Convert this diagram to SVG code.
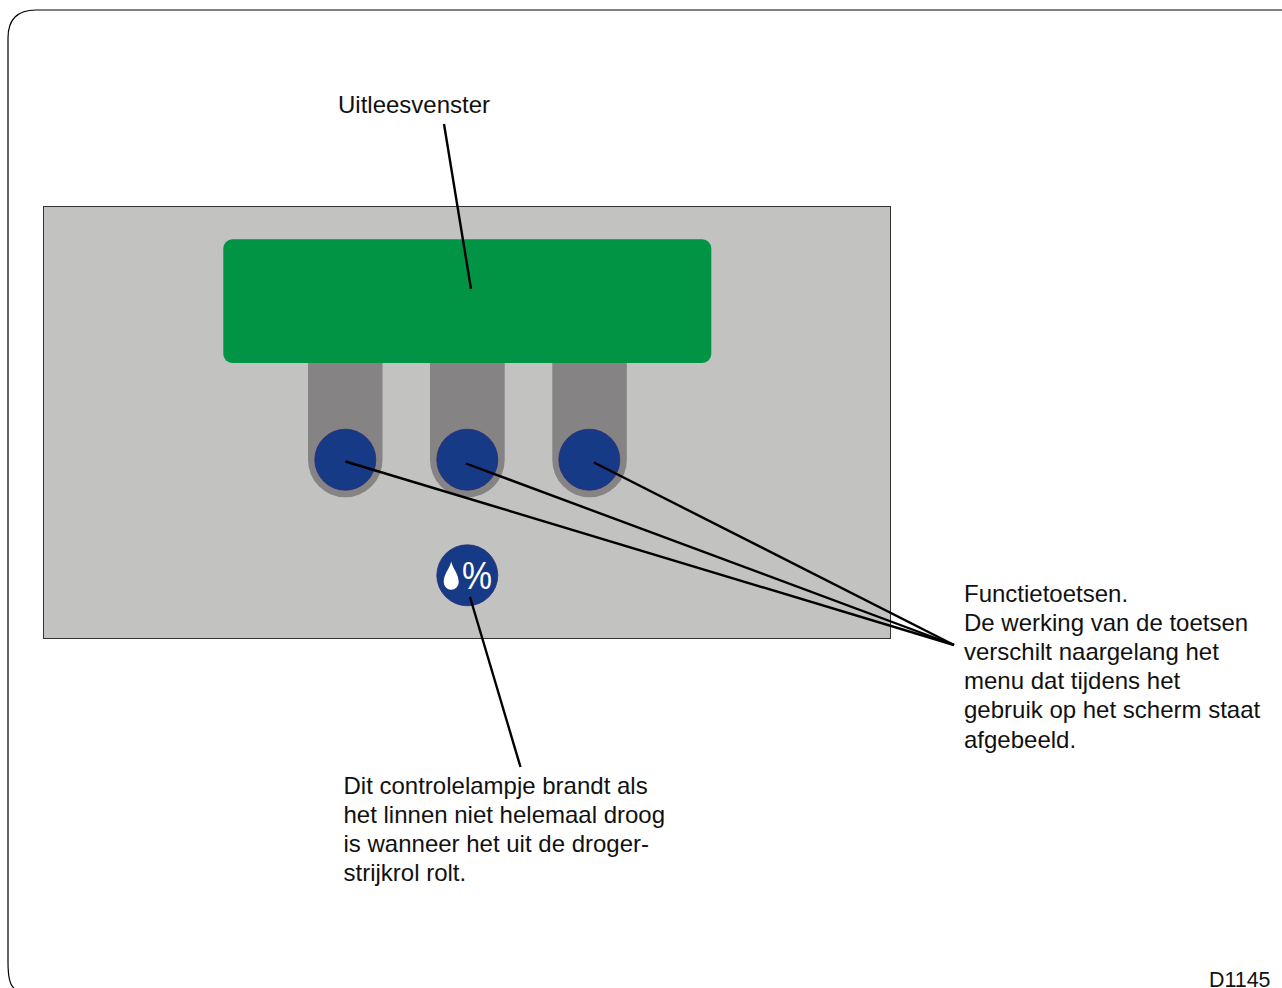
<svg xmlns="http://www.w3.org/2000/svg" width="1282" height="988" viewBox="0 0 1282 988">
<style>
text{font-family:"Liberation Sans",Arial,sans-serif;font-size:24px;fill:#111}
.btn{fill:#163a85;stroke:#2d2a7a;stroke-width:.8}
.slot{fill:#858383}
.ln{fill:none;stroke:#000;stroke-width:2.4;stroke-linecap:butt}
</style>
<path id="frame" d="M1282 10H36Q8 10 8 38V962Q8 984 14 988" fill="none" stroke="#000" stroke-width="1.2"/>
<g id="panel"><rect x="43.500" y="206.500" width="847" height="432" fill="#c2c2c1" stroke="#333" stroke-width="1"/></g>
<g id="key1"><path class="slot" d="M308 360H382.500V460A37.250 37.250 0 0 1 308 460Z"/><circle class="btn" cx="345.300" cy="459.700" r="30.500"/></g>
<g id="key2"><path class="slot" d="M430 360H504.700V460A37.350 37.350 0 0 1 430 460Z"/><circle class="btn" cx="467.300" cy="459.700" r="30.500"/></g>
<g id="key3"><path class="slot" d="M552.300 360H626.800V460A37.250 37.250 0 0 1 552.300 460Z"/><circle class="btn" cx="589.300" cy="459.700" r="30.500"/></g>
<g id="display"><rect x="223.300" y="239.300" width="488" height="123.700" rx="9" fill="#009444"/></g>
<g id="lamp"><circle class="btn" cx="467.300" cy="575.300" r="30.500"/>
<path d="M451.200 561.500C449.500 569 443.700 574 443.700 582.300A7.500 7.500 0 0 0 458.700 582.300C458.700 574 453 569 451.200 561.500Z" fill="#fff"/>
<text x="462" y="589" textLength="30" lengthAdjust="spacingAndGlyphs" style="font-size:38px;fill:#fff">%</text></g>
<g id="connectors">
<path class="ln" d="M444 124L471 289"/>
<path class="ln" d="M345.500 461.500L954 645"/>
<path class="ln" d="M466 463.500L954 645"/>
<path class="ln" d="M594 462.500L954 645"/>
<path class="ln" d="M470 597L520.500 767"/>
</g>
<g id="label-display"><text x="338" y="113">Uitleesvenster</text></g>
<g id="label-keys"><text x="964" y="602">Functietoetsen.</text><text x="964" y="631">De werking van de toetsen</text><text x="964" y="660">verschilt naargelang het</text><text x="964" y="689">menu dat tijdens het</text><text x="964" y="718">gebruik op het scherm staat</text><text x="964" y="748">afgebeeld.</text></g>
<g id="label-lamp"><text x="343.500" y="794">Dit controlelampje brandt als</text><text x="343.500" y="823">het linnen niet helemaal droog</text><text x="343.500" y="852">is wanneer het uit de droger-</text><text x="343.500" y="881">strijkrol rolt.</text></g>
<text x="1209" y="987" style="font-size:21.400px">D1145</text>
</svg>
